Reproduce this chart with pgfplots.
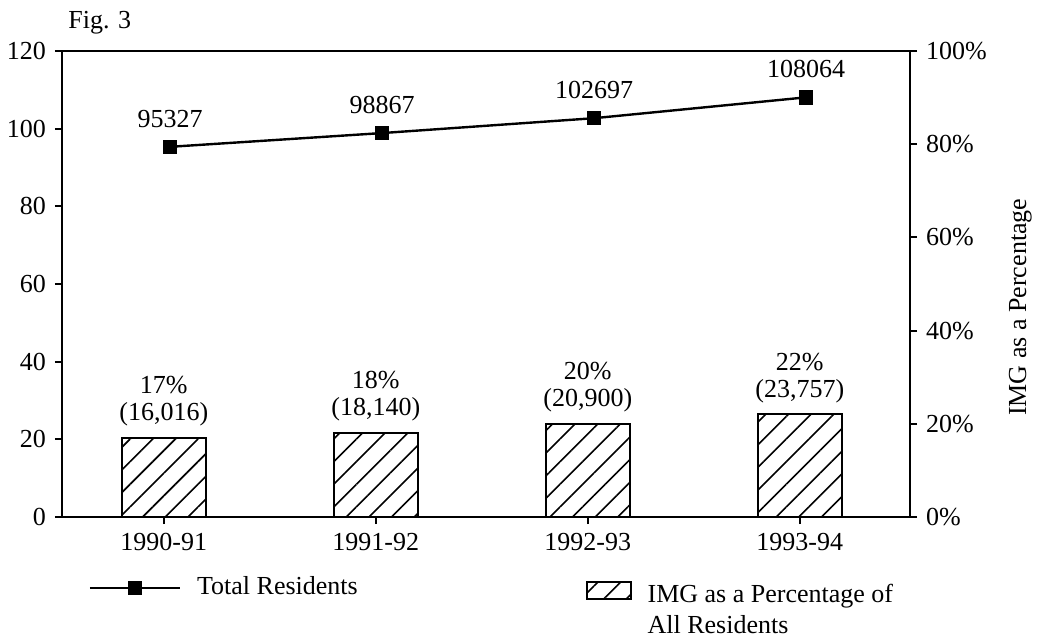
\documentclass[border=0pt]{standalone}
\usepackage{fontspec}
\setmainfont{Liberation Serif}
\usepackage{pgfplots}
\pgfplotsset{compat=1.18}
\usetikzlibrary{patterns.meta}
\tikzset{bl/.style={anchor=south, inner sep=0pt, yshift=5.7pt, align=center, font=\fontsize{13}{13.5}\selectfont}}
\begin{document}
\fontsize{13}{15.6}\selectfont
\begin{tikzpicture}[font=\fontsize{13}{15.6}\selectfont]
\useasboundingbox (0,0) rectangle (518.5pt,318.5pt);
\pgfplotsset{
  common/.style={
    at={(31pt,60pt)}, anchor=south west,
    width=424pt, height=233pt, scale only axis,
    xmin=-0.48, xmax=3.52,
    tick align=outside,
    major tick length=3.5pt,
    every tick/.style={black, line width=1pt},
    axis line style={line width=1.2pt},
    clip=false,
  }
}
\begin{axis}[common,
  ymin=0, ymax=120,
  xtick={0,1,2,3}, xticklabels={1990-91,1991-92,1992-93,1993-94},
  ytick={0,20,...,120}, yticklabels={0,20,40,60,80,100,120},
  xtick pos=bottom, ytick pos=left,
  legend style={at={(0.031,-0.152)}, anchor=west, draw=none, fill=none, inner sep=0pt,
    /tikz/every odd column/.append style={column sep=6pt}},
  legend cell align=left,
  legend image code/.code={\draw[#1, mark repeat=2, mark phase=2] plot coordinates {(0pt,0pt) (22.5pt,0pt) (45pt,0pt)};},
  nodes near coords, point meta=explicit symbolic,
  every node near coord/.append style={black, yshift=4.7pt, font=\fontsize{13}{15.6}\selectfont},
]
\addplot[black, line width=1.2pt, mark=square*, mark size=3pt] coordinates {
  (0.03,95.327) [95327]
  (1.03,98.867) [98867]
  (2.03,102.697) [102697]
  (3.03,108.064) [108064]
};
\addlegendentry{Total Residents}
\node[anchor=base west, inner sep=0pt] at (rel axis cs:0.007,1.049) {Fig. 3};
\end{axis}
\begin{axis}[common,
  ymin=0, ymax=100,
  axis x line=none, axis y line*=right,
  ytick={0,20,...,100}, yticklabels={0\%,20\%,40\%,60\%,80\%,100\%},
  ybar, bar width=42pt,
  every axis y label/.style={at={(axis description cs:1.13,0.45)}, rotate=90, anchor=center},
  ylabel={IMG as a Percentage},
  legend style={at={(0.617,-0.135)}, anchor=north west, draw=none, fill=none, inner sep=0pt,
    cells={align=left},
    /tikz/every odd column/.append style={column sep=6pt}},
  legend cell align=left,
  legend image code/.code={\draw[#1] (0pt,6.25pt) rectangle (22pt,14.75pt);},
]
\addplot[draw=black, line width=1pt, pattern={Lines[angle=45, distance=8pt, line width=0.8pt]}] coordinates {(0,17) (1,18) (2,20) (3,22)};
\addlegendentry{IMG as a Percentage of\\All Residents}
\node[bl] at (axis cs:0,17) {17\%\\(16,016)};
\node[bl] at (axis cs:1,18) {18\%\\(18,140)};
\node[bl] at (axis cs:2,20) {20\%\\(20,900)};
\node[bl] at (axis cs:3,22) {22\%\\(23,757)};
\end{axis}
\end{tikzpicture}
\end{document}
